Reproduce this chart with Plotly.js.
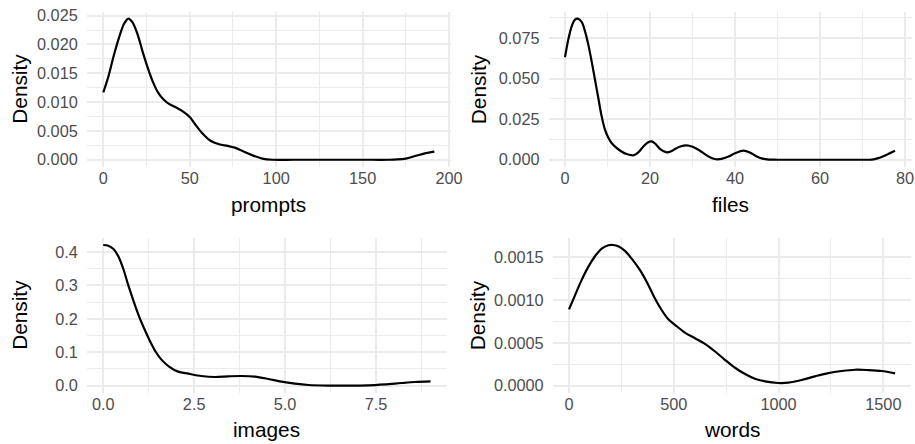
<!DOCTYPE html>
<html>
<head>
<meta charset="utf-8">
<script src="https://cdn.plot.ly/plotly-3.0.1.min.js"></script>
<style>html,body{margin:0;padding:0;background:#fff;}#chart{width:915px;height:444px;}</style>
</head>
<body>
<div id="chart"></div>
<script>
// ---- Data (kernel density curves) ----
const promptsX = [0,3,6,9,12,14.5,17,20,23,26,29,32,35,38,42,46,50,53,57,62,67,72,76,80,86,92,98,110,130,150,165,170,175,180,186,191.5];
const promptsDensity = [0.0117,0.0145,0.0180,0.0211,0.0236,0.0245,0.0238,0.0216,0.0185,0.0157,0.0133,0.0115,0.0104,0.0097,0.0091,0.0084,0.0074,0.0062,0.0047,0.0033,0.0027,0.0024,0.0021,0.0016,0.0008,0.0002,0.0000,0,0,0,0,0.00005,0.0002,0.0006,0.0011,0.0014];

const filesX = [0,0.78,1.57,2.35,3.0,3.92,4.71,5.49,6.27,7.06,7.84,8.63,9.41,10.2,11.0,12.2,13.3,14.5,16.1,17.25,18.4,19.4,20.4,21.4,22.4,23.9,25,26,27.3,28.6,30,31.5,33,34.5,35.5,36.8,38.5,40,42,43.5,45,46.5,48,50,60,70,72.2,73.7,75.7,77.65];
const filesDensity = [0.0631,0.0740,0.0822,0.0863,0.0869,0.0849,0.0791,0.0709,0.0606,0.0493,0.0380,0.0267,0.0185,0.0135,0.0102,0.0072,0.0051,0.0035,0.0027,0.0045,0.0080,0.0105,0.0113,0.0095,0.0065,0.0045,0.0052,0.0068,0.0083,0.0088,0.0080,0.0060,0.0033,0.0010,0.0003,0.0005,0.0020,0.0040,0.0056,0.0045,0.0022,0.0007,0.0001,0,0,0,0.0001,0.0010,0.0031,0.0055];

const imagesX = [0,0.14,0.28,0.41,0.55,0.69,0.85,1.0,1.15,1.3,1.45,1.6,1.8,2.06,2.34,2.7,3.07,3.44,3.8,4.17,4.54,4.9,5.27,5.64,6.2,6.74,7.29,7.75,8.2,8.57,9.0];
const imagesDensity = [0.421,0.419,0.409,0.388,0.350,0.300,0.248,0.203,0.165,0.130,0.100,0.078,0.058,0.042,0.036,0.029,0.026,0.028,0.029,0.027,0.020,0.012,0.006,0.002,0.0002,0.0,0.001,0.004,0.008,0.011,0.013];

const wordsX = [0,29,60,92,124,156,188,211,235,267,299,339,379,410,442,474,506,553,601,649,697,744,792,840,887,935,999,1047,1110,1174,1237,1301,1365,1428,1492,1556];
const wordsDensity = [0.000891,0.001058,0.001233,0.001388,0.001512,0.001601,0.00164,0.001643,0.001628,0.001574,0.001484,0.001349,0.001174,0.001019,0.000884,0.000775,0.00071,0.00062,0.000554,0.000488,0.000399,0.000302,0.000209,0.000136,0.0000814,0.0000504,0.000031,0.0000349,0.0000659,0.000109,0.000147,0.000171,0.000186,0.000182,0.000171,0.000143];

const xTitles = ["prompts","files","images","words"];
const yTitle = "Density";

// ---- Styling ----
const FONT = "Liberation Sans, Arial, Helvetica, sans-serif";
const GRID = "#EBEBEB";
const TICK_SIZE = 16.3;
const TITLE_SIZE = 20.8;
const lineStyle = {color:"#000000", width:2.2, shape:"spline", smoothing:0.9};

const traces = [
  {x:promptsX, y:promptsDensity, xaxis:"x", yaxis:"y", type:"scatter", mode:"lines", line:lineStyle, hoverinfo:"skip"},
  {x:filesX, y:filesDensity, xaxis:"x2", yaxis:"y2", type:"scatter", mode:"lines", line:lineStyle, hoverinfo:"skip"},
  {x:imagesX, y:imagesDensity, xaxis:"x3", yaxis:"y3", type:"scatter", mode:"lines", line:lineStyle, hoverinfo:"skip"},
  {x:wordsX, y:wordsDensity, xaxis:"x4", yaxis:"y4", type:"scatter", mode:"lines", line:lineStyle, hoverinfo:"skip"}
];

function ax(extra, minorDtick){
  return Object.assign({
    showgrid:true, gridcolor:GRID, gridwidth:2,
    zeroline:false, showline:false, ticks:"",
    tickfont:{family:FONT, size:TICK_SIZE, color:"#4D4D4D"},
    minor:{showgrid:true, gridcolor:GRID, gridwidth:1, dtick:minorDtick},
    fixedrange:true, automargin:false
  }, extra);
}

const W = 915, H = 444;
const px = v => v / W;
const py = v => (H - v) / H;

const topY = [py(166.8), py(11.5)];
const botY = [py(392.7), py(238)];
const XS = 4.5, YS = 8;

function title(text, x, y, angle){
  return {text:text, xref:"paper", yref:"paper", x:px(x), y:py(y), textangle:angle||0,
          xanchor:"center", yanchor:"middle", showarrow:false,
          font:{family:FONT, size:TITLE_SIZE, color:"#000"}};
}

const layout = {
  width:W, height:H,
  margin:{l:0, r:0, t:0, b:0},
  paper_bgcolor:"#ffffff", plot_bgcolor:"#ffffff",
  showlegend:false,
  font:{family:FONT},
  xaxis: ax({domain:[px(86.75), px(450.9)], range:[-9.575, 201.075], tick0:0, dtick:50, anchor:"y", ticklabelstandoff:XS}, 25),
  yaxis: ax({domain:topY, range:[-0.001225, 0.025725], tick0:0, dtick:0.005, tickformat:".3f", anchor:"x", ticklabelstandoff:YS}, 0.0025),
  xaxis2: ax({domain:[px(548.5), px(911.5)], range:[-3.88, 81.53], tick0:0, dtick:20, anchor:"y2", ticklabelstandoff:XS}, 10),
  yaxis2: ax({domain:topY, range:[-0.00435, 0.0913], tick0:0, dtick:0.025, tickformat:".3f", anchor:"x2", ticklabelstandoff:YS}, 0.0125),
  xaxis3: ax({domain:[px(86.9), px(446.9)], range:[-0.45, 9.45], tick0:0, dtick:2.5, tickformat:".1f", anchor:"y3", ticklabelstandoff:XS}, 1.25),
  yaxis3: ax({domain:botY, range:[-0.021, 0.442], tick0:0, dtick:0.1, tickformat:".1f", anchor:"x3", ticklabelstandoff:YS}, 0.05),
  xaxis4: ax({domain:[px(552.7), px(911.3)], range:[-77.8, 1633.4], tick0:0, dtick:500, anchor:"y4", ticklabelstandoff:XS}, 250),
  yaxis4: ax({domain:botY, range:[-0.0000822, 0.001725], tick0:0, dtick:0.0005, tickformat:".4f", anchor:"x4", ticklabelstandoff:YS}, 0.00025),
  annotations: [
    title(xTitles[0], 268.8, 204),
    title(xTitles[1], 730, 204),
    title(xTitles[2], 266.9, 429.8),
    title(xTitles[3], 732, 429.8),
    title(yTitle, 19.5, 89.2, -90),
    title(yTitle, 478, 89.2, -90),
    title(yTitle, 19.5, 315.3, -90),
    title(yTitle, 477, 315.3, -90)
  ]
};

Plotly.newPlot("chart", traces, layout, {displayModeBar:false, staticPlot:true});
</script>
</body>
</html>
